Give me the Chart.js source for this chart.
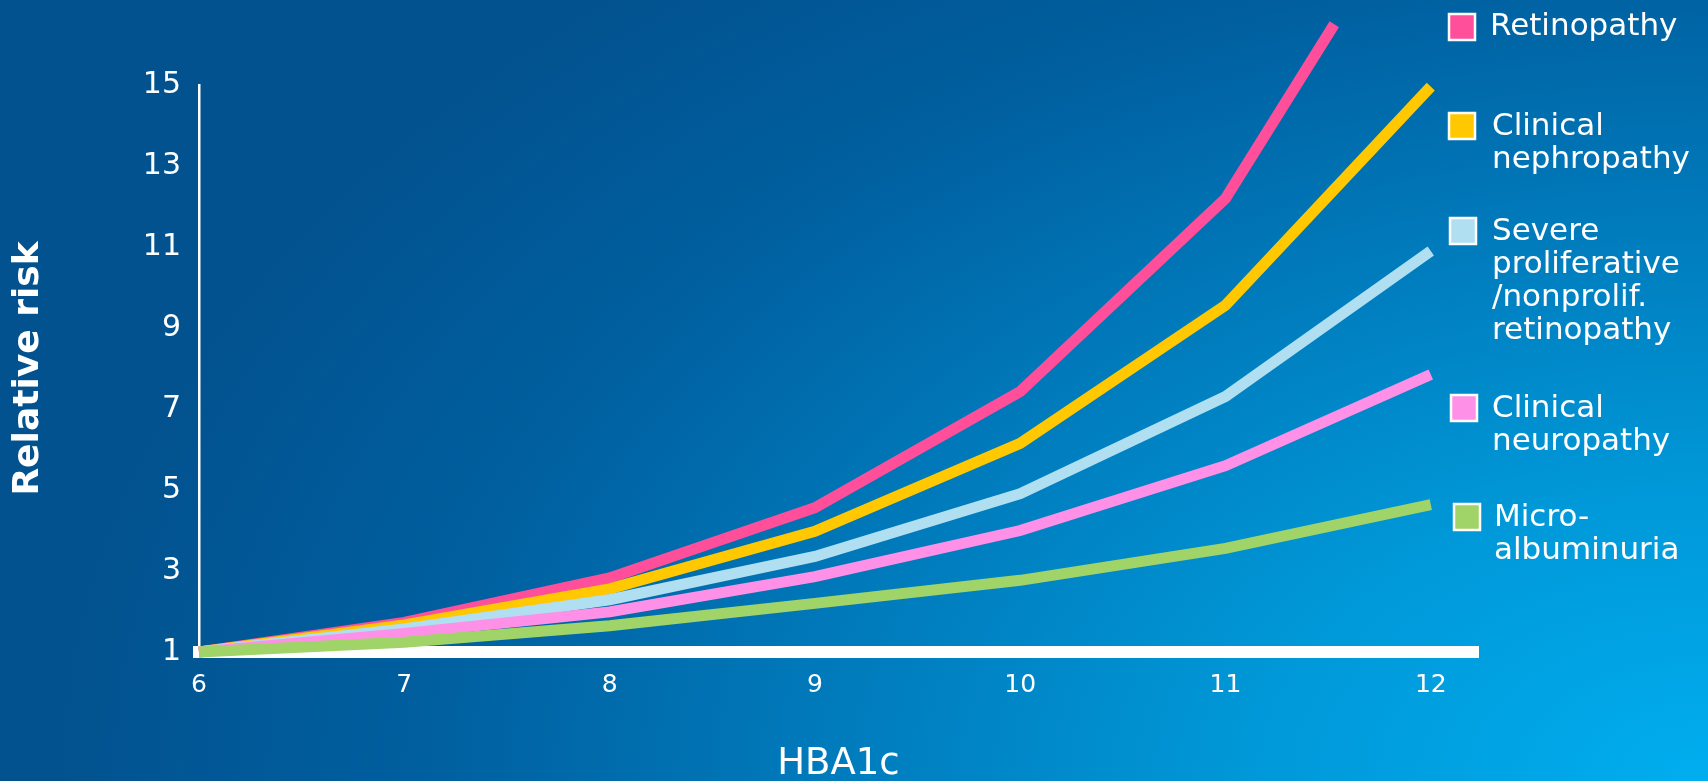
<!DOCTYPE html>
<html><head><meta charset="utf-8">
<script src="https://cdn.jsdelivr.net/npm/chart.js@4.4.0/dist/chart.umd.min.js"></script>
<style>
html,body{margin:0;padding:0;width:1708px;height:781px;overflow:hidden;}
body{background:radial-gradient(ellipse 1650px 1050px at 100% 100%, #00aeef 0%, #0098d8 28%, #0079ba 55%, #005f9f 78%, #02528f 100%);}
#wrap{position:relative;width:1708px;height:781px;}
canvas{display:block;}
</style></head><body><div id="wrap"><canvas id="c" width="1708" height="781"></canvas></div>
<script>
// ---- data ----
const hba1c = [6, 7, 8, 9, 10, 11, 12];
const retinopathyHba1c = [6, 7, 8, 9, 10, 11, 11.53];
const retinopathy = [1, 1.73, 2.83, 4.56, 7.43, 12.2, 16.5];
const nephropathy = [1, 1.67, 2.56, 3.98, 6.15, 9.56, 14.96];
const severeRetinopathy = [1, 1.57, 2.29, 3.36, 4.91, 7.31, 10.9];
const neuropathy = [1, 1.46, 1.99, 2.86, 4.0, 5.6, 7.85];
const microalbuminuria = [1, 1.24, 1.65, 2.2, 2.77, 3.56, 4.64];
const seriesLabels = [
  ["Retinopathy"],
  ["Clinical", "nephropathy"],
  ["Severe", "proliferative", "/nonprolif.", "retinopathy"],
  ["Clinical", "neuropathy"],
  ["Micro-", "albuminuria"]
];
const yTickValues = [1, 3, 5, 7, 9, 11, 13, 15];
const xTickValues = [6, 7, 8, 9, 10, 11, 12];
const xAxisTitle = "HBA1c";
const yAxisTitle = "Relative risk";

// ---- styles ----
const colors = ['#ff4f9a', '#ffc800', '#b0dff2', '#ff90e8', '#a0d468'];
const legendPos = [
  {sx: 1449, sy: 14, tx: 1490, ty: 27},
  {sx: 1449, sy: 113, tx: 1492, ty: 127},
  {sx: 1450, sy: 218, tx: 1492, ty: 232},
  {sx: 1451, sy: 395, tx: 1492, ty: 409},
  {sx: 1454, sy: 504, tx: 1494, ty: 518}
];
const pts = (xs, ys) => xs.map((x, i) => ({x: x, y: ys[i]}));
const seriesData = [
  pts(retinopathyHba1c, retinopathy),
  pts(hba1c, nephropathy),
  pts(hba1c, severeRetinopathy),
  pts(hba1c, neuropathy),
  pts(hba1c, microalbuminuria)
];

const sideLegend = {
  id: 'sideLegend',
  afterDraw(chart) {
    const ctx = chart.ctx;
    ctx.save();
    ctx.font = '31px "DejaVu Sans", Verdana, sans-serif';
    ctx.textBaseline = 'middle';
    ctx.textAlign = 'left';
    chart.data.datasets.forEach((ds, i) => {
      const p = legendPos[i];
      const size = 26;
      ctx.fillStyle = ds.borderColor;
      ctx.fillRect(p.sx, p.sy, size, size);
      ctx.strokeStyle = '#ffffff';
      ctx.lineWidth = 2.5;
      ctx.strokeRect(p.sx, p.sy, size, size);
      ctx.fillStyle = '#ffffff';
      seriesLabels[i].forEach((line, j) => {
        ctx.fillText(line, p.tx, p.ty + j * 33);
      });
    });
    ctx.restore();
  }
};

new Chart(document.getElementById('c'), {
  type: 'line',
  data: {
    datasets: seriesData.map((d, i) => ({
      label: seriesLabels[i].join(' '),
      data: d,
      borderColor: colors[i],
      backgroundColor: colors[i],
      borderWidth: 11,
      pointRadius: 0,
      tension: 0,
      fill: false,
      clip: false,
      order: 4 - i
    }))
  },
  options: {
    responsive: false,
    animation: false,
    devicePixelRatio: 1,
    layout: {padding: {top: 85, right: 230, left: 0, bottom: 0}},
    plugins: {legend: {display: false}, tooltip: {enabled: false}},
    scales: {
      x: {
        type: 'linear',
        min: 6,
        max: 12.23,
        afterFit(s) { s.height = 129; },
        afterBuildTicks(s) { s.ticks = xTickValues.map(v => ({value: v})); },
        grid: {display: false, drawTicks: false},
        border: {display: true, color: '#ffffff', width: 12},
        ticks: {color: '#ffffff', padding: 18, maxRotation: 0, autoSkip: false,
          font: {family: '"DejaVu Sans", Verdana, sans-serif', size: 25},
          callback: v => String(v)},
        title: {display: true, text: xAxisTitle, color: '#ffffff',
          font: {family: '"DejaVu Sans", Verdana, sans-serif', size: 37, lineHeight: 0.9},
          padding: {top: 0, bottom: 0}}
      },
      y: {
        type: 'linear',
        min: 1,
        max: 15,
        afterFit(s) { s.width = 199; },
        afterBuildTicks(s) { s.ticks = yTickValues.map(v => ({value: v})); },
        grid: {display: false, drawTicks: false},
        border: {display: true, color: '#ffffff', width: 2.5},
        ticks: {color: '#ffffff', padding: 18,
          font: {family: '"DejaVu Sans", Verdana, sans-serif', size: 30},
          callback: v => String(v)},
        title: {display: true, text: yAxisTitle, color: '#ffffff',
          font: {family: '"DejaVu Sans", Verdana, sans-serif', size: 36, weight: 'bold', lineHeight: 1},
          padding: {top: 11, bottom: 0}}
      }
    }
  },
  plugins: [sideLegend]
});
</script>
</body></html>
